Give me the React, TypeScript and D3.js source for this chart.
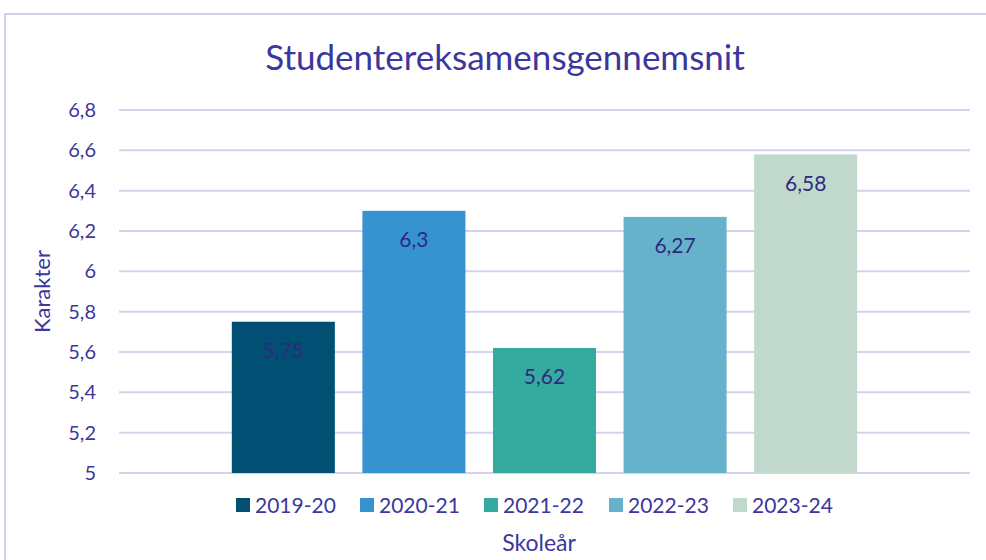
import React, { useEffect, useRef } from "react";
import * as d3 from "d3";

const years = ["2019-20", "2020-21", "2021-22", "2022-23", "2023-24"];
const averages = [5.75, 6.3, 5.62, 6.27, 6.58];
const yTicks = [5, 5.2, 5.4, 5.6, 5.8, 6, 6.2, 6.4, 6.6, 6.8];
const colors = ["#014f73", "#3792d0", "#35aba0", "#67b2cb", "#c1d9cc"];

const textColor = "#3b379c";
const gridColor = "#d5d1ef";
const font = "Lato, 'Open Sans', sans-serif";

const fmt = (v: number) => String(v).replace(".", ",");

export default function App() {
  const ref = useRef<SVGSVGElement>(null);

  useEffect(() => {
    const svg = d3.select(ref.current).attr("width", 986).attr("height", 560);
    svg.selectAll("*").remove();

    const left = 119, right = 970, top = 110, bottom = 473;

    // chart border
    svg.append("rect")
      .attr("x", 5).attr("y", 14)
      .attr("width", 1100).attr("height", 600)
      .attr("fill", "white")
      .attr("stroke", "#d3cfee").attr("stroke-width", 2);

    svg.append("text")
      .attr("x", 505).attr("y", 70)
      .attr("text-anchor", "middle")
      .attr("font-family", font).attr("font-size", 35)
      .attr("fill", textColor)
      .text("Studentereksamensgennemsnit");

    const y = d3.scaleLinear().domain([5, 6.8]).range([bottom, top]);
    const x = d3.scaleBand().domain(years).range([left, right])
      .paddingInner(0.211).paddingOuter(0.864);

    // gridlines
    svg.append("g").selectAll("line").data(yTicks).enter().append("line")
      .attr("x1", left).attr("x2", right)
      .attr("y1", d => y(d)).attr("y2", d => y(d))
      .attr("stroke", gridColor).attr("stroke-width", 2);

    svg.append("g").selectAll("text").data(yTicks).enter().append("text")
      .attr("x", 96).attr("y", d => y(d))
      .attr("dy", "0.35em")
      .attr("text-anchor", "end")
      .attr("font-family", font).attr("font-size", 20)
      .attr("fill", textColor)
      .text(d => fmt(d));

    svg.append("text")
      .attr("transform", `translate(50,${(top + bottom) / 2}) rotate(-90)`)
      .attr("text-anchor", "middle")
      .attr("font-family", font).attr("font-size", 22)
      .attr("fill", textColor)
      .text("Karakter");

    const bars = svg.append("g");
    bars.selectAll("rect").data(averages).enter().append("rect")
      .attr("x", (d, i) => x(years[i]) as number)
      .attr("width", x.bandwidth())
      .attr("y", d => y(d))
      .attr("height", d => bottom - y(d))
      .attr("fill", (d, i) => colors[i]);

    bars.selectAll("text").data(averages).enter().append("text")
      .attr("x", (d, i) => (x(years[i]) as number) + x.bandwidth() / 2)
      .attr("y", d => y(d) + 29)
      .attr("dy", "0.35em")
      .attr("text-anchor", "middle")
      .attr("font-family", font).attr("font-size", 21)
      .attr("fill", "#2e2a7f")
      .text(d => fmt(d));

    // legend
    const legendX = [236, 360, 484, 609, 733];
    const legend = svg.append("g").selectAll("g").data(years).enter().append("g")
      .attr("transform", (d, i) => `translate(${legendX[i]},505)`);
    legend.append("rect")
      .attr("x", 0).attr("y", -7)
      .attr("width", 14).attr("height", 14)
      .attr("fill", (d, i) => colors[i]);
    legend.append("text")
      .attr("x", 19).attr("dy", "0.36em")
      .attr("font-family", font).attr("font-size", 21)
      .attr("fill", textColor)
      .text(d => d);

    svg.append("text")
      .attr("x", 539).attr("y", 551)
      .attr("text-anchor", "middle")
      .attr("font-family", font).attr("font-size", 23)
      .attr("fill", textColor)
      .text("Skoleår");
  }, []);

  return (
    <div style={{ position: "absolute", left: 0, top: 0 }}>
      <svg ref={ref}></svg>
    </div>
  );
}
